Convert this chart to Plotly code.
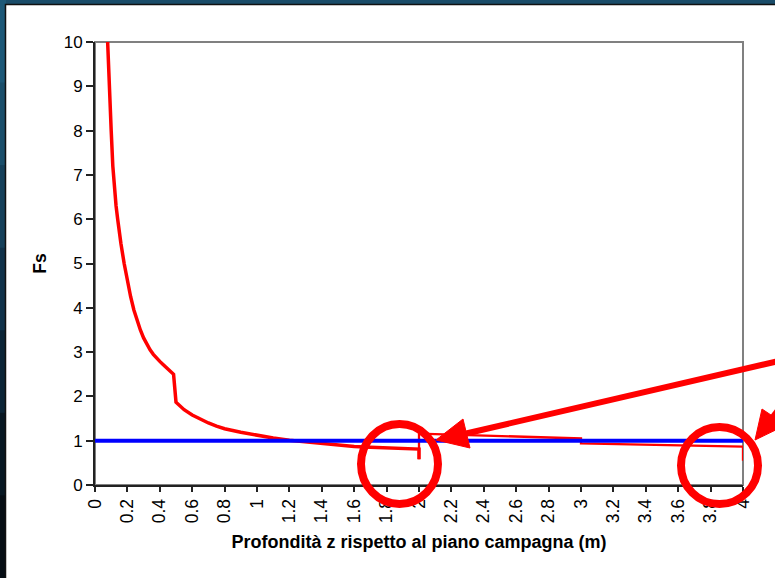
import plotly.graph_objects as go

# Factor of safety Fs versus depth below ground level
depth_m = [
    0.078, 0.09, 0.10, 0.11, 0.12, 0.13, 0.14, 0.15, 0.16, 0.18, 0.20, 0.22,
    0.24, 0.26, 0.28, 0.30, 0.32, 0.34, 0.36, 0.38, 0.40, 0.42, 0.44, 0.46, 0.485,
    0.50, 0.55, 0.60, 0.65, 0.70, 0.75, 0.80, 0.90, 1.00, 1.10, 1.20, 1.30,
    1.40, 1.50, 1.60, 1.70, 1.80, 1.90, 2.00, 2.00,
    2.00, 2.10, 2.20, 2.30, 2.40, 2.50, 2.60, 2.70, 2.80, 2.90, 3.00,
    3.00, 3.10, 3.20, 3.30, 3.40, 3.50, 3.60, 3.70, 3.80, 3.90, 4.00, 4.00,
]
fs_values = [
    10.0, 8.7, 8.0, 7.2, 6.7, 6.3, 6.0, 5.7, 5.45, 5.0, 4.6, 4.25,
    3.95, 3.7, 3.5, 3.32, 3.17, 3.05, 2.95, 2.86, 2.79, 2.72, 2.65, 2.59, 2.5,
    1.87, 1.70, 1.58, 1.48, 1.40, 1.33, 1.27, 1.19, 1.12, 1.06, 1.01, 0.97,
    0.93, 0.90, 0.87, 0.85, 0.83, 0.82, 0.81, 0.58,
    1.16, 1.15, 1.14, 1.13, 1.12, 1.11, 1.10, 1.09, 1.075, 1.065, 1.05,
    0.94, 0.932, 0.924, 0.916, 0.908, 0.90, 0.893, 0.886, 0.879, 0.872, 0.865, 0.55,
]
# Limit-equilibrium threshold
limit_depth = [0.0, 4.0]
limit_fs = [1.0, 1.0]

x_ticks = [round(0.2 * i, 1) for i in range(21)]
y_ticks = list(range(11))

W, H = 775, 578
ML, MR, MT, MB = 95, 32, 42, 93
PW, PH = W - ML - MR, H - MT - MB


def px(x):
    return (x - ML) / PW


def py(y):
    return (H - MB - y) / PH


RED = "#FF0000"
FONT = "Liberation Sans, Arial, sans-serif"

# first two layers are drawn heavier than the deeper ones
split = fs_values.index(0.58)

fig = go.Figure()
fig.add_trace(go.Scatter(x=depth_m[:split + 1], y=fs_values[:split + 1], mode="lines",
                         line=dict(color=RED, width=3.5), showlegend=False))
fig.add_trace(go.Scatter(x=depth_m[split:], y=fs_values[split:], mode="lines",
                         line=dict(color=RED, width=2.3), showlegend=False))
fig.add_trace(go.Scatter(x=limit_depth, y=limit_fs, mode="lines",
                         line=dict(color="#0000FF", width=4), showlegend=False))

shapes = []
# slide frame
shapes.append(dict(type="rect", xref="paper", yref="paper", layer="below",
                   x0=px(-2), x1=px(W + 2), y0=py(H + 2), y1=py(-2),
                   fillcolor="#1a4c69", line=dict(width=0)))
band = ["#1d5877", "#1a4e6a", "#15405a", "#10324a", "#0b2436", "#071722", "#050d14"]
step = H / len(band)
for i, c in enumerate(band):
    shapes.append(dict(type="rect", xref="paper", yref="paper", layer="below",
                       x0=px(-2), x1=px(6), y0=py((i + 1) * step + 1), y1=py(i * step),
                       fillcolor=c, line=dict(width=0)))
shapes.append(dict(type="rect", xref="paper", yref="paper", layer="below",
                   x0=px(5.5), x1=px(W + 5), y0=py(H + 5), y1=py(4.5),
                   fillcolor="white", line=dict(color="#111111", width=1.5)))
# plot-area border
shapes.append(dict(type="rect", xref="paper", yref="paper", layer="below",
                   x0=0, x1=1, y0=0, y1=1, line=dict(color="#808080", width=2)))

# highlight circles
for (cx, cy, rx, ry) in [(399.5, 464, 38.5, 40), (719.5, 465.5, 38.5, 38.5)]:
    shapes.append(dict(type="circle", xref="paper", yref="paper", layer="above",
                       x0=px(cx - rx), x1=px(cx + rx), y0=py(cy + ry), y1=py(cy - ry),
                       line=dict(color=RED, width=8)))

# arrow 1: shaft + head
shapes.append(dict(type="line", xref="paper", yref="paper", layer="above",
                   x0=px(800), y0=py(356), x1=px(464), y1=py(434),
                   line=dict(color=RED, width=6)))
shapes.append(dict(type="path", xref="paper", yref="paper", layer="above",
                   path=f"M {px(436)},{py(440)} L {px(463)},{py(419)} L {px(470)},{py(448)} Z",
                   fillcolor=RED, line=dict(color=RED, width=1)))
# arrow 2: head entering from the right edge
shapes.append(dict(type="line", xref="paper", yref="paper", layer="above",
                   x0=px(772), y0=py(418), x1=px(820), y1=py(357),
                   line=dict(color=RED, width=6)))
shapes.append(dict(type="path", xref="paper", yref="paper", layer="above",
                   path=f"M {px(755)},{py(440)} L {px(762)},{py(409)} L {px(786)},{py(425)} Z",
                   fillcolor=RED, line=dict(color=RED, width=1)))

fig.update_layout(
    width=W, height=H,
    margin=dict(l=ML, r=MR, t=MT, b=MB),
    paper_bgcolor="white", plot_bgcolor="white",
    font=dict(family=FONT, size=17, color="black"),
    shapes=shapes,
    xaxis=dict(range=[0, 4], tickvals=x_ticks, ticktext=[f"{v:g}" for v in x_ticks],
               tickangle=-90, ticks="outside", ticklen=5, tickwidth=1.5, tickcolor="#222",
               showline=True, linecolor="#222", linewidth=2, showgrid=False, zeroline=False,
               tickfont=dict(size=17.5),
               title=dict(text="<b>Profondità z rispetto al piano campagna (m)</b>",
                          font=dict(size=18), standoff=13)),
    yaxis=dict(range=[0, 10], tickvals=y_ticks, ticks="outside", ticklen=7, tickwidth=1.5,
               tickcolor="#222", showline=True, linecolor="#222", linewidth=2,
               showgrid=False, zeroline=False, tickfont=dict(size=17),
               title=dict(text="<b>Fs</b>", font=dict(size=17.5), standoff=13)),
)

fig.write_html("out.html")
